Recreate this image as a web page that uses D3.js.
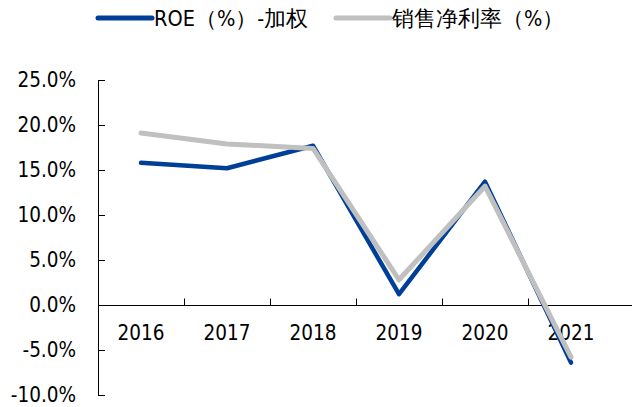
<!DOCTYPE html>
<html>
<head>
<meta charset="utf-8">
<script src="https://cdn.jsdelivr.net/npm/d3@7"></script>
<style>
  body { margin: 0; background: #fff; }
  text { font-family: "DejaVu Sans Condensed", "DejaVu Sans", sans-serif; font-stretch: condensed; fill: #000; }
</style>
</head>
<body>
<div id="chart"></div>
<script>
var years = ["2016", "2017", "2018", "2019", "2020", "2021"];
var roe = [15.8, 15.2, 17.7, 1.2, 13.7, -6.4];
var netMargin = [19.1, 17.9, 17.4, 2.8, 13.2, -5.8];
var yTicks = [-10, -5, 0, 5, 10, 15, 20, 25];
var seriesNames = ["ROE（%）-加权", "销售净利率（%）"];

var width = 634, height = 407;
var plotLeft = 98, plotRight = 614, plotTop = 80, plotBottom = 395;

var svg = d3.select("#chart").append("svg")
    .attr("width", width)
    .attr("height", height);

var x = d3.scaleBand().domain(years).range([plotLeft, plotRight]);
var y = d3.scaleLinear().domain([-10, 25]).range([plotBottom, plotTop]);

// y axis, ticks pointing inward
var yAxis = svg.append("g")
    .attr("transform", "translate(" + plotLeft + ",0)")
    .call(d3.axisRight(y).tickValues(yTicks).tickSize(7).tickFormat(function (d) { return ""; }));
yAxis.select(".domain").attr("d", "M0.5," + y(25) + "V" + y(-10));
yAxis.selectAll("line").attr("stroke", "#000");

svg.append("g").selectAll("text")
    .data(yTicks)
    .enter().append("text")
    .attr("x", 76)
    .attr("y", function (d) { return y(d); })
    .attr("dy", "0.36em")
    .attr("text-anchor", "end")
    .attr("font-size", 20.5)
    .text(function (d) { return d.toFixed(1) + "%"; });

// x axis at zero, ticks at band edges pointing up
var zeroY = Math.round(y(0)) + 0.5;
svg.append("line")
    .attr("x1", plotLeft).attr("x2", 632)
    .attr("y1", zeroY).attr("y2", zeroY)
    .attr("stroke", "#000");
svg.append("g").selectAll("line")
    .data(years.slice(1))
    .enter().append("line")
    .attr("x1", function (d) { return Math.round(x(d)) + 0.5; })
    .attr("x2", function (d) { return Math.round(x(d)) + 0.5; })
    .attr("y1", zeroY).attr("y2", zeroY - 7)
    .attr("stroke", "#000");
svg.append("g").selectAll("text")
    .data(years)
    .enter().append("text")
    .attr("x", function (d) { return x(d) + x.bandwidth() / 2; })
    .attr("y", zeroY + 34)
    .attr("text-anchor", "middle")
    .attr("font-size", 20.5)
    .text(function (d) { return d; });

var line = d3.line()
    .x(function (d, i) { return x(years[i]) + x.bandwidth() / 2; })
    .y(function (d) { return y(d); });

svg.append("path")
    .datum(roe)
    .attr("d", line)
    .attr("fill", "none")
    .attr("stroke", "#003f98")
    .attr("stroke-width", 4.5)
    .attr("stroke-linejoin", "round")
    .attr("stroke-linecap", "round");

svg.append("path")
    .datum(netMargin)
    .attr("d", line)
    .attr("fill", "none")
    .attr("stroke", "#c0c0c0")
    .attr("stroke-width", 5)
    .attr("stroke-linejoin", "round")
    .attr("stroke-linecap", "round");

// legend
var legend = [
    { name: seriesNames[0], color: "#003f98", x: 98 },
    { name: seriesNames[1], color: "#c0c0c0", x: 336 }
];
var lg = svg.append("g").selectAll("g")
    .data(legend)
    .enter().append("g")
    .attr("transform", function (d) { return "translate(" + d.x + ",18)"; });
lg.append("line")
    .attr("x1", 0).attr("x2", 54)
    .attr("stroke", function (d) { return d.color; })
    .attr("stroke-width", 5)
    .attr("stroke-linecap", "round");
lg.append("text")
    .attr("x", 56)
    .attr("dy", "0.36em")
    .attr("font-size", 21.5)
    .attr("font-family", "'DejaVu Sans Condensed', 'Noto Sans CJK SC', sans-serif")
    .text(function (d) { return d.name; });
</script>
</body>
</html>
